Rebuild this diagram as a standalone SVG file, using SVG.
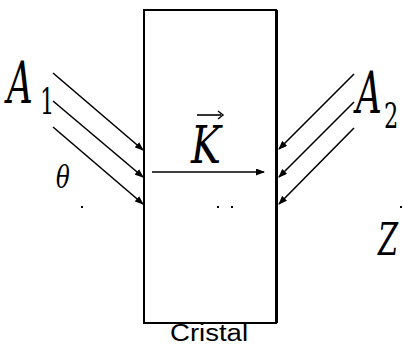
<svg xmlns="http://www.w3.org/2000/svg" width="403" height="345" viewBox="0 0 403 345">
<defs>
<style>
.ln{stroke:#000;stroke-width:1.6;fill:none}
.m{font-family:'DejaVu Serif',serif;font-style:italic;fill:#000}
.d{font-family:'DejaVu Serif',serif;font-style:normal;fill:#000}
.s{font-family:'Liberation Sans',Arial,sans-serif;fill:#000}
.dot{fill:#000}
</style>
<marker id="ah" markerUnits="userSpaceOnUse" markerWidth="9" markerHeight="7" refX="8" refY="3.5" orient="auto"><path d="M0,0 L9,3.5 L0,7 z" fill="#000"/></marker>
</defs>
<rect width="403" height="345" fill="#fff"/>
<g id="cristal">
<rect x="144" y="10" width="132" height="313" fill="none" stroke="#000" stroke-width="2"/>
<line x1="276.5" y1="10" x2="276.5" y2="323" stroke="#000" stroke-width="3"/>
<text class="s" x="170" y="341" font-size="23" textLength="78" lengthAdjust="spacingAndGlyphs">Cristal</text>
</g>
<g id="connectors">
<line class="ln" x1="53" y1="73" x2="143" y2="150" marker-end="url(#ah)"/>
<line class="ln" x1="53" y1="101" x2="143" y2="177" marker-end="url(#ah)"/>
<line class="ln" x1="53" y1="127" x2="143" y2="204" marker-end="url(#ah)"/>
<line class="ln" x1="354" y1="74" x2="279" y2="149" marker-end="url(#ah)"/>
<line class="ln" x1="354" y1="102" x2="279" y2="177" marker-end="url(#ah)"/>
<line class="ln" x1="354" y1="128" x2="279" y2="204" marker-end="url(#ah)"/>
<line class="ln" x1="152" y1="172" x2="264" y2="172" marker-end="url(#ah)"/>
</g>
<g id="A1">
<text class="m" transform="translate(7,103) scale(0.85,1.4)" font-size="42">A</text>
<text class="d" transform="translate(40,114) scale(0.75,1.2)" font-size="30">1</text>
</g>
<g id="A2">
<text class="m" transform="translate(356,113) scale(0.85,1.4)" font-size="42">A</text>
<text class="d" transform="translate(384,128) scale(0.75,1.2)" font-size="30">2</text>
</g>
<g id="K">
<text class="m" transform="translate(191,163) scale(1,1.3)" font-size="40">K</text>
<line x1="197" y1="115" x2="221" y2="115" stroke="#000" stroke-width="1.6"/>
<path d="M218,111 L223,115 L218,119" fill="none" stroke="#000" stroke-width="1.4"/>
</g>
<g id="theta">
<text class="m" transform="translate(56,188) scale(0.85,1.2)" font-size="27">θ</text>
</g>
<g id="Z">
<text class="m" transform="translate(378,255) scale(0.85,1.3)" font-size="34">Z</text>
</g>
<g id="dots">
<rect class="dot" x="81" y="206" width="2" height="2"/>
<rect class="dot" x="217" y="206" width="2" height="2"/>
<rect class="dot" x="231" y="206" width="2" height="2"/>
<rect class="dot" x="400" y="206" width="2" height="2"/>
</g>
</svg>
